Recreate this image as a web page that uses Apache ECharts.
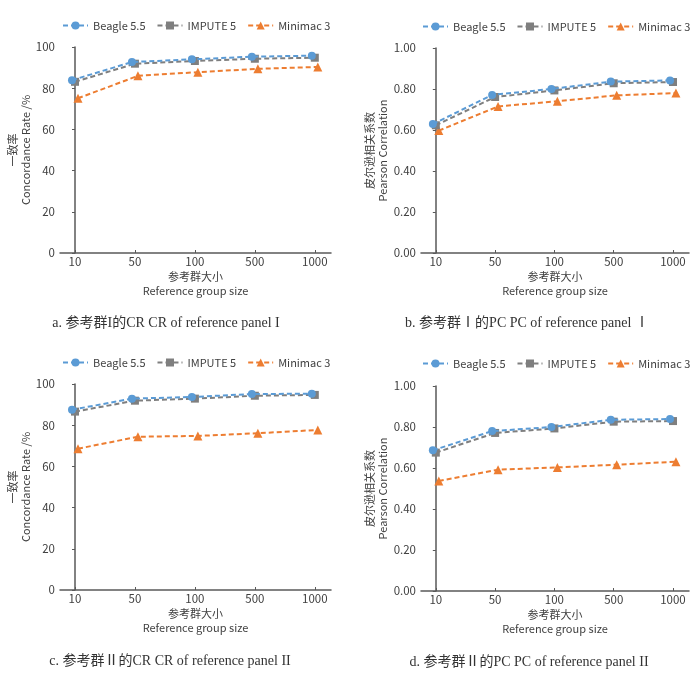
<!DOCTYPE html>
<html>
<head>
<meta charset="utf-8">
<script src="https://cdn.jsdelivr.net/npm/echarts@6/dist/echarts.min.js"></script>
<style>
  html, body { margin: 0; padding: 0; background: #fff; }
  #chart { width: 700px; height: 675px; }
</style>
</head>
<body>
<div id="chart"></div>
<script>
// reference group sizes (x categories)
var sizes = ['10', '50', '100', '500', '1000'];
var seriesNames = ['Beagle 5.5', 'IMPUTE 5', 'Minimac 3'];

// a. concordance rate, reference panel I (%)
var crBeagle1 = [83.9, 92.7, 94.0, 95.3, 95.8];
var crImpute1 = [83.1, 91.9, 93.2, 94.3, 94.8];
var crMinimac1 = [75.1, 86.0, 87.8, 89.4, 90.3];
// b. pearson correlation, reference panel I
var pcBeagle1 = [0.629, 0.771, 0.800, 0.836, 0.842];
var pcImpute1 = [0.623, 0.761, 0.793, 0.828, 0.834];
var pcMinimac1 = [0.597, 0.715, 0.740, 0.769, 0.780];
// c. concordance rate, reference panel II (%)
var crBeagle2 = [87.5, 92.9, 93.7, 95.1, 95.3];
var crImpute2 = [86.6, 91.9, 92.9, 94.3, 94.7];
var crMinimac2 = [68.6, 74.4, 74.8, 76.1, 77.7];
// d. pearson correlation, reference panel II
var pcBeagle2 = [0.686, 0.780, 0.800, 0.835, 0.839];
var pcImpute2 = [0.675, 0.771, 0.793, 0.826, 0.829];
var pcMinimac2 = [0.537, 0.592, 0.603, 0.616, 0.631];

var colors = ['#5B9BD5', '#7F7F7F', '#ED7D31'];
var symbols = ['circle', 'rect', 'triangle'];
// small horizontal nudge per series (axis units), like the excel original
var shifts = [0.05, 0, -0.05];

var sansFont = '"Noto Sans CJK SC", "Noto Sans", sans-serif';
var serifFont = '"Liberation Serif", "Noto Sans CJK SC", serif';

var panels = [
  { left: 60, top: 47, width: 271, height: 206, legendLeft: 62, legendTop: 20,
    kind: 'cr', data: [crBeagle1, crImpute1, crMinimac1],
    caption: 'a. 参考群I的CR CR of reference panel I', capX: 166, capY: 323 },
  { left: 421, top: 48, width: 268, height: 205, legendLeft: 422, legendTop: 21,
    kind: 'pc', data: [pcBeagle1, pcImpute1, pcMinimac1],
    caption: 'b. 参考群Ⅰ的PC PC of reference panel Ⅰ', capX: 527, capY: 323 },
  { left: 60, top: 384, width: 271, height: 206, legendLeft: 62, legendTop: 357,
    kind: 'cr', data: [crBeagle2, crImpute2, crMinimac2],
    caption: 'c. 参考群Ⅱ的CR CR of reference panel II', capX: 170, capY: 661 },
  { left: 421, top: 386, width: 268, height: 205, legendLeft: 422, legendTop: 358,
    kind: 'pc', data: [pcBeagle2, pcImpute2, pcMinimac2],
    caption: 'd. 参考群Ⅱ的PC PC of reference panel II', capX: 529, capY: 662 }
];

var axisColor = '#595959';
var labelColor = '#404040';
var tickIdx = sizes.map(function (s, i) { return i; });

var grid = [], xAxis = [], yAxis = [], series = [], legend = [], graphic = [];

panels.forEach(function (p, k) {
  grid.push({ left: p.left, top: p.top, width: p.width, height: p.height });

  // visible x axis (also used by IMPUTE)
  xAxis.push({
    gridIndex: k, type: 'value', min: -0.25, max: 4.27,
    name: '参考群大小\nReference group size',
    nameLocation: 'middle', nameGap: 17,
    nameTextStyle: { color: labelColor, fontFamily: sansFont, fontSize: 11, lineHeight: 14, verticalAlign: 'top' },
    axisLine: { show: true, lineStyle: { color: axisColor, width: 1.5 } },
    axisTick: { show: true, inside: true, length: 3, customValues: tickIdx, lineStyle: { color: axisColor } },
    axisLabel: {
      customValues: tickIdx, color: labelColor, fontFamily: sansFont, fontSize: 11.5, margin: 3,
      formatter: function (v) { return sizes[Math.round(v)]; }
    },
    splitLine: { show: false }
  });
  // hidden shifted axes for Beagle and Minimac
  [0, 2].forEach(function (s) {
    xAxis.push({ gridIndex: k, type: 'value', min: -0.25 + shifts[s], max: 4.27 + shifts[s], show: false });
  });

  var isCr = p.kind === 'cr';
  yAxis.push({
    gridIndex: k, type: 'value', min: 0, max: isCr ? 100 : 1, interval: isCr ? 20 : 0.2,
    name: isCr ? '一致率\nConcordance Rate /%' : '皮尔逊相关系数\nPearson Correlation',
    nameLocation: 'middle', nameRotate: 90, nameGap: isCr ? 22 : 27,
    nameTextStyle: { color: labelColor, fontFamily: sansFont, fontSize: 11, lineHeight: 13 },
    axisLine: { show: true, lineStyle: { color: axisColor, width: 1.5 } },
    axisTick: { show: true, length: 3, lineStyle: { color: axisColor } },
    axisLabel: {
      color: labelColor, fontFamily: sansFont, fontSize: 11.5, margin: 5,
      formatter: function (v) { return isCr ? String(v) : v.toFixed(2); }
    },
    splitLine: { show: false }
  });

  var axisFor = [k * 3 + 1, k * 3, k * 3 + 2];
  p.data.forEach(function (vals, s) {
    series.push({
      name: seriesNames[s], type: 'line',
      xAxisIndex: axisFor[s], yAxisIndex: k,
      data: vals.map(function (v, i) { return [i, v]; }),
      symbol: symbols[s], symbolSize: s === 2 ? 9 : 8,
      color: colors[s],
      lineStyle: { color: colors[s], width: 2, type: [5, 3] },
      itemStyle: { color: colors[s] },
      z: 3 - s,
      animation: false
    });
  });

  legend.push({
    left: p.legendLeft, top: p.legendTop, padding: 0, width: 300,
    data: seriesNames, itemWidth: 25, itemHeight: 10, itemGap: 11,
    textStyle: { color: labelColor, fontFamily: sansFont, fontSize: 11 },
    selectedMode: false
  });

  graphic.push({
    type: 'text', x: p.capX, y: p.capY,
    style: {
      text: p.caption, align: 'center', verticalAlign: 'middle',
      fontFamily: serifFont, fontSize: 14, fill: '#333'
    }
  });
});

var chart = echarts.init(document.getElementById('chart'), null, { renderer: 'canvas' });
chart.setOption({
  backgroundColor: '#fff',
  animation: false,
  grid: grid,
  xAxis: xAxis,
  yAxis: yAxis,
  legend: legend,
  series: series,
  graphic: graphic
});
</script>
</body>
</html>
